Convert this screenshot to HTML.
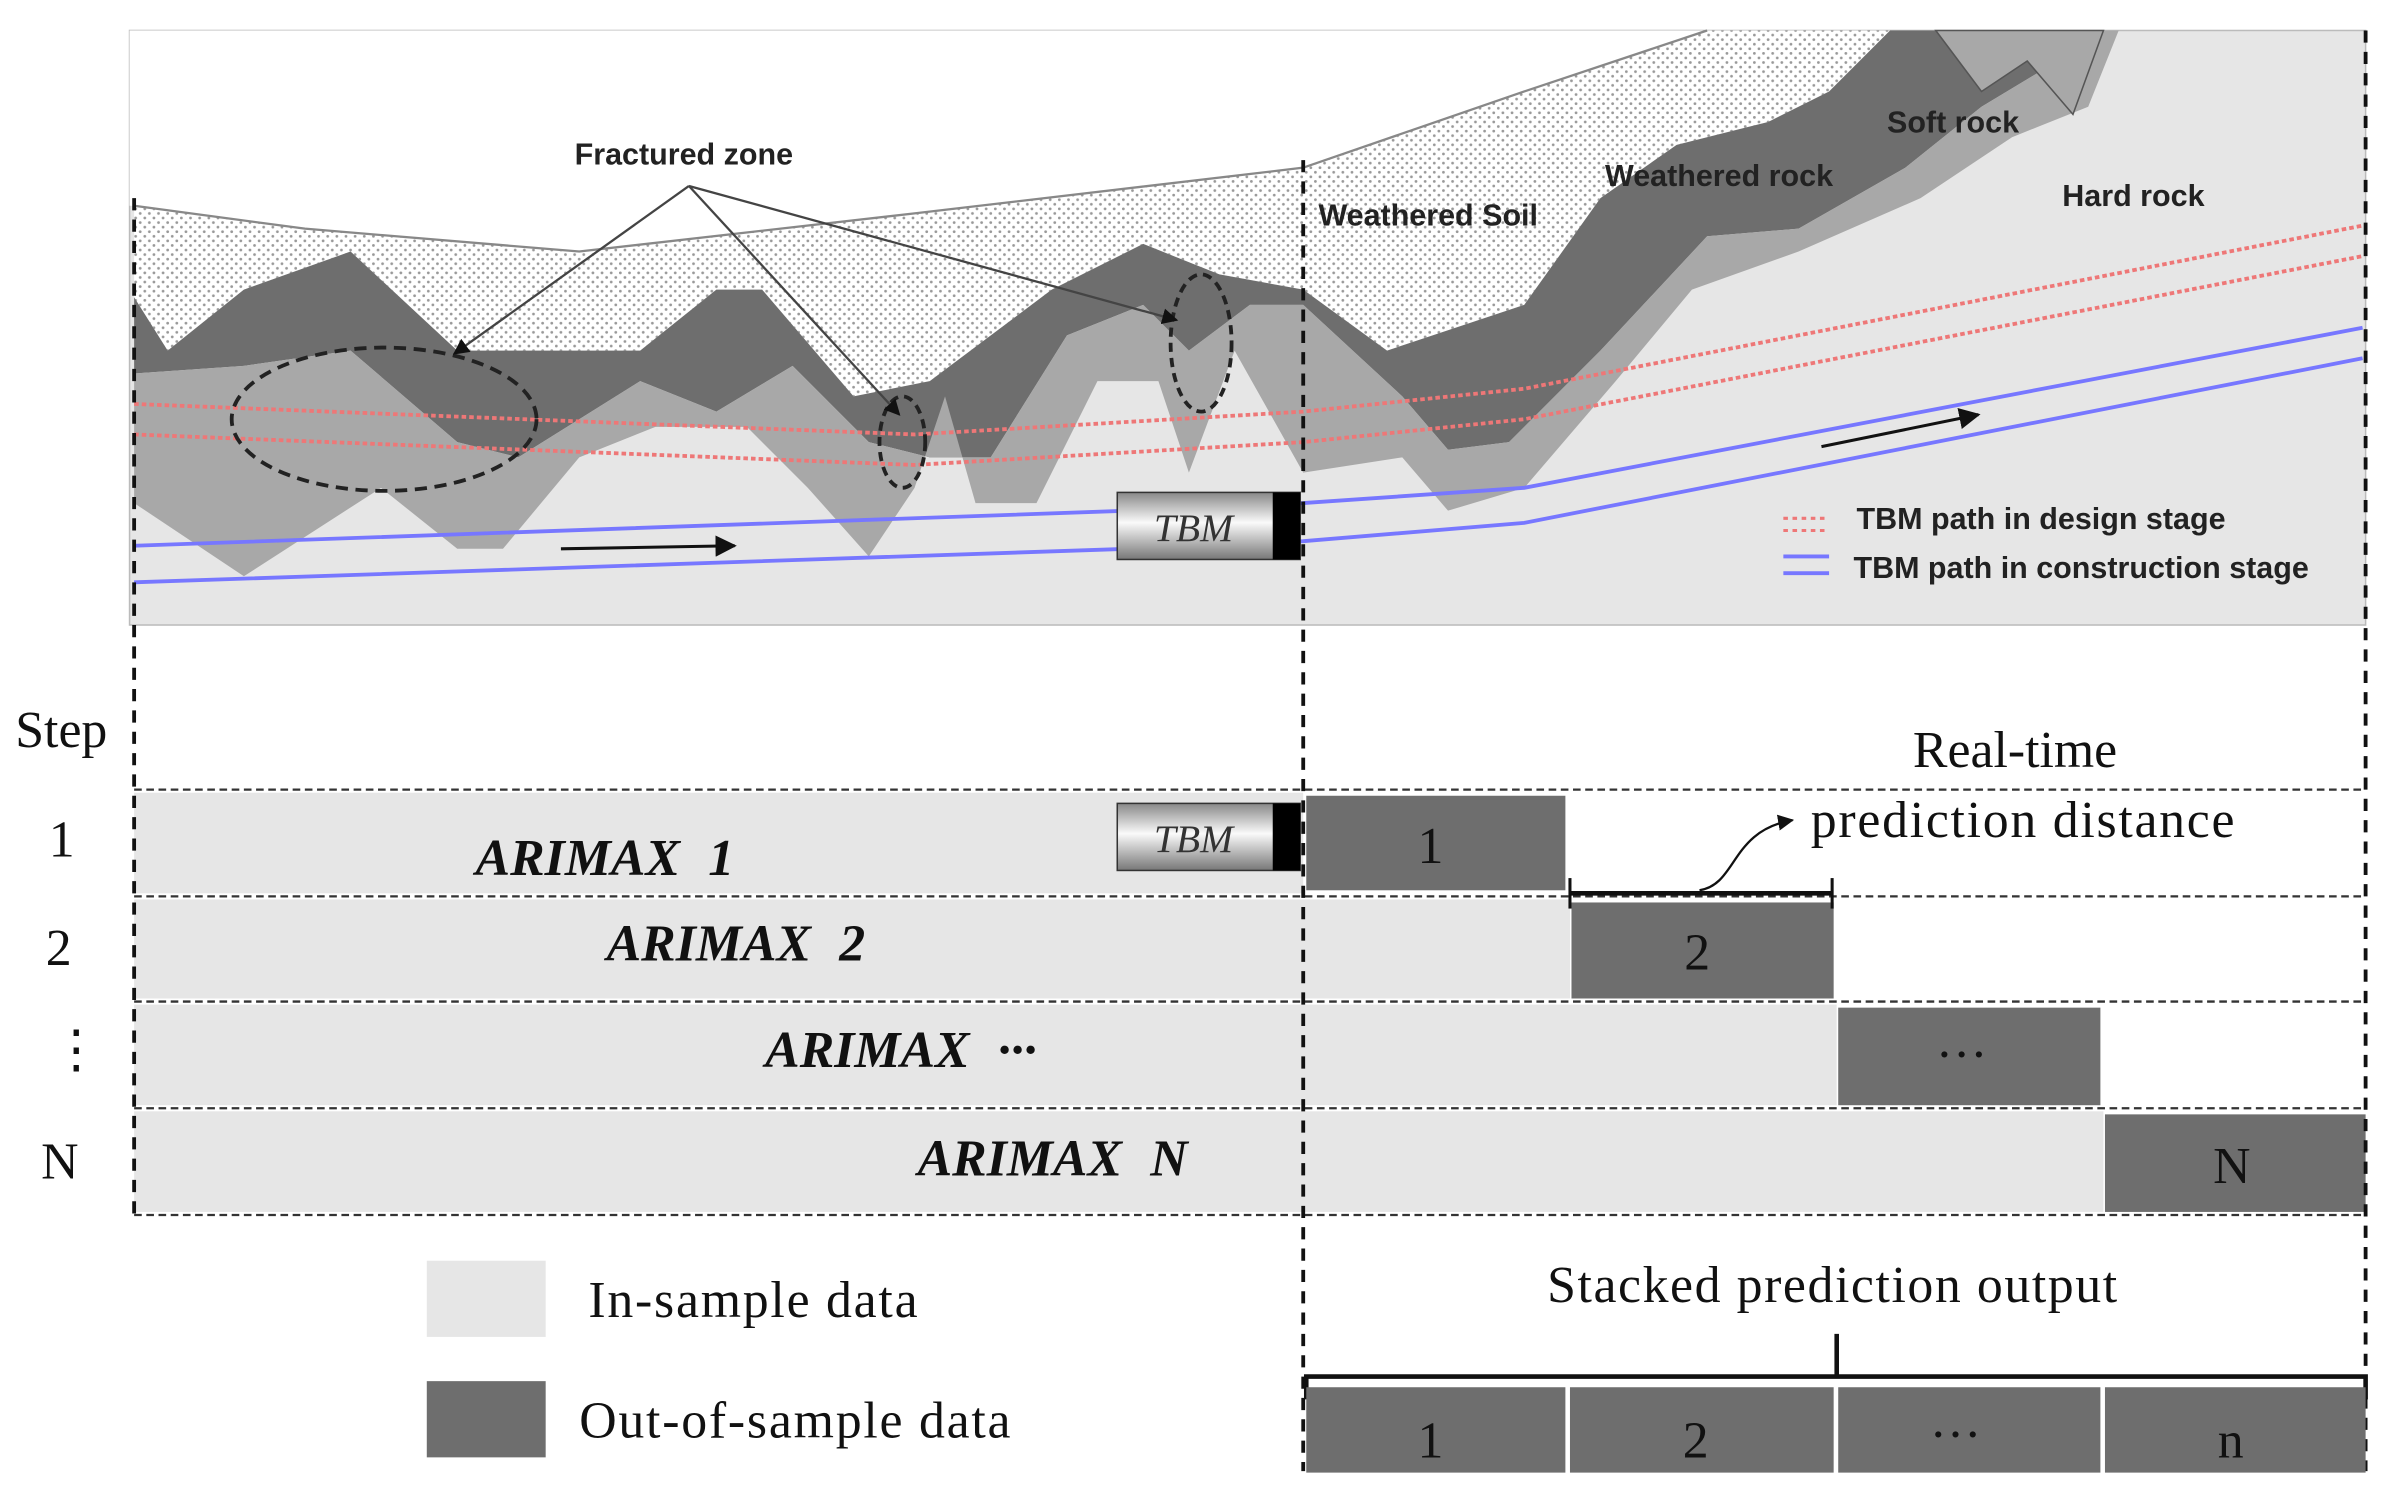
<!DOCTYPE html>
<html><head><meta charset="utf-8"><style>
html,body{margin:0;padding:0;background:#fff;}
svg{display:block;}
.s{font-family:"Liberation Sans",sans-serif;font-weight:bold;font-size:20px;fill:#222;}
.r{font-family:"Liberation Serif",serif;font-size:34px;fill:#111;}
.a{font-family:"Liberation Serif",serif;font-size:34px;font-weight:bold;font-style:italic;fill:#111;word-spacing:10px;}
</style></head><body>
<svg width="2390" height="1497" viewBox="0 0 1568 982" preserveAspectRatio="none" xmlns="http://www.w3.org/2000/svg">
<defs>
<pattern id="dots" width="6" height="6" patternUnits="userSpaceOnUse"><rect width="6" height="6" fill="#fff"/><circle cx="2" cy="2" r="0.9" fill="#999"/><circle cx="5" cy="5" r="0.9" fill="#999"/></pattern>
<linearGradient id="tbm" x1="0" y1="0" x2="0" y2="1"><stop offset="0" stop-color="#888"/><stop offset="0.45" stop-color="#fafafa"/><stop offset="1" stop-color="#777"/></linearGradient>
<marker id="ar" viewBox="0 0 10 10" refX="9" refY="5" markerWidth="7" markerHeight="7" orient="auto"><path d="M0,0L10,5L0,10z" fill="#111"/></marker>
</defs>
<rect x="85" y="20" width="1467" height="390" fill="#e6e6e6" stroke="#bbb"/>
<polygon points="85,20 1120,20 1000,60 855,110 600,140 380,165 200,150 88,135 85,135" fill="#fff"/>
<polygon points="88,135 200,150 380,165 600,140 855,110 1000,60 1120,20 1240,20 1200,60 1160,80 1100,95 1050,130 1000,200 910,230 855,190 800,180 750,160 690,190 610,250 560,260 500,190 470,190 420,230 300,230 230,165 160,190 110,230 88,195" fill="url(#dots)"/>
<polyline points="88,135 200,150 380,165 600,140 855,110 1000,60 1120,20" fill="none" stroke="#888" stroke-width="1.5"/>
<polygon points="88,195 110,230 160,190 230,165 300,230 420,230 470,190 500,190 560,260 610,250 690,190 750,160 800,180 855,190 910,230 1000,200 1050,130 1100,95 1160,80 1200,60 1240,20 1380,20 1350,40 1300,70 1250,110 1180,150 1120,155 1050,230 990,290 950,295 920,260 855,200 820,200 780,230 750,200 700,220 650,300 610,300 570,290 520,240 470,270 420,250 340,300 300,290 230,230 160,240 88,245" fill="#6e6e6e"/>
<polygon points="88,245 160,240 230,230 300,290 340,300 420,250 470,270 520,240 570,290 610,300 650,300 700,220 750,200 780,230 820,200 855,200 920,260 950,295 990,290 1050,230 1120,155 1180,150 1250,110 1300,70 1350,40 1380,20 1390,20 1370,70 1320,90 1260,130 1180,165 1110,190 1060,250 1000,320 950,335 920,300 855,310 810,230 780,310 760,250 720,250 680,330 640,330 620,260 600,320 570,365 530,320 490,280 430,280 380,300 330,360 300,360 250,320 160,378 88,330" fill="#a8a8a8"/>
<polygon points="1270,20 1300,60 1330,40 1360,75 1380,20" fill="#a8a8a8" stroke="#555"/>
<polyline points="88,265 600,285 855,270 1000,255 1550,148" fill="none" stroke="#e77" stroke-width="2.5" stroke-dasharray="3,2"/>
<polyline points="88,285 600,305 855,290 1000,275 1550,168" fill="none" stroke="#e77" stroke-width="2.5" stroke-dasharray="3,2"/>
<polyline points="88,358 740,335 855,330 1000,320 1550,215" fill="none" stroke="#77f" stroke-width="2.5"/>
<polyline points="88,382 740,360 855,355 1000,343 1550,235" fill="none" stroke="#77f" stroke-width="2.5"/>
<ellipse cx="252" cy="275" rx="100" ry="47" fill="none" stroke="#222" stroke-width="2.5" stroke-dasharray="8,5"/>
<ellipse cx="592" cy="290" rx="15" ry="30" fill="none" stroke="#222" stroke-width="2.5" stroke-dasharray="6,4"/>
<ellipse cx="788" cy="225" rx="20" ry="45" fill="none" stroke="#222" stroke-width="2.5" stroke-dasharray="6,4"/>
<line x1="452" y1="122" x2="298" y2="232" stroke="#444" stroke-width="1.5" marker-end="url(#ar)"/>
<line x1="452" y1="122" x2="590" y2="272" stroke="#444" stroke-width="1.5" marker-end="url(#ar)"/>
<line x1="452" y1="122" x2="772" y2="210" stroke="#444" stroke-width="1.5" marker-end="url(#ar)"/>
<text x="377" y="108" class="s">Fractured zone</text>
<text x="865" y="148" class="s">Weathered Soil</text>
<text x="1053" y="122" class="s">Weathered rock</text>
<text x="1238" y="87" class="s">Soft rock</text>
<text x="1353" y="135" class="s">Hard rock</text>
<line x1="1170" y1="340" x2="1200" y2="340" stroke="#e77" stroke-width="2" stroke-dasharray="3,3"/>
<line x1="1170" y1="348" x2="1200" y2="348" stroke="#e77" stroke-width="2" stroke-dasharray="3,3"/>
<line x1="1170" y1="365" x2="1200" y2="365" stroke="#77f" stroke-width="2.5"/>
<line x1="1170" y1="376" x2="1200" y2="376" stroke="#77f" stroke-width="2.5"/>
<text x="1218" y="347" class="s">TBM path in design stage</text>
<text x="1216" y="379" class="s">TBM path in construction stage</text>
<line x1="368" y1="360" x2="482" y2="358" stroke="#111" stroke-width="2" marker-end="url(#ar)"/>
<line x1="1195" y1="293" x2="1298" y2="272" stroke="#111" stroke-width="2" marker-end="url(#ar)"/>
<rect x="733" y="323" width="120" height="44" fill="url(#tbm)" stroke="#333"/>
<rect x="835" y="323" width="18" height="44" fill="#000"/>
<text x="757" y="355" font-family="Liberation Serif,serif" font-style="italic" font-size="26" fill="#333">TBM</text>
<rect x="88" y="520" width="767" height="66" fill="#e6e6e6"/>
<rect x="857" y="522" width="170" height="62" fill="#6e6e6e"/>
<rect x="88" y="590" width="942" height="65" fill="#e6e6e6"/>
<rect x="1031" y="592" width="172" height="63" fill="#6e6e6e"/>
<rect x="88" y="659" width="1117" height="66" fill="#e6e6e6"/>
<rect x="1206" y="661" width="172" height="64" fill="#6e6e6e"/>
<rect x="88" y="729" width="1292" height="66" fill="#e6e6e6"/>
<rect x="1381" y="731" width="171" height="64" fill="#6e6e6e"/>
<g stroke="#333" stroke-width="1.5" stroke-dasharray="5,3" fill="none">
<line x1="88" y1="518" x2="1552" y2="518"/><line x1="88" y1="588" x2="1552" y2="588"/>
<line x1="88" y1="657" x2="1552" y2="657"/><line x1="88" y1="727" x2="1552" y2="727"/>
<line x1="88" y1="797" x2="1552" y2="797"/>
</g>
<g stroke="#111" stroke-width="2.5" stroke-dasharray="8,6">
<line x1="88" y1="130" x2="88" y2="800"/><line x1="855" y1="105" x2="855" y2="965"/><line x1="1552" y1="20" x2="1552" y2="965"/>
</g>
<rect x="733" y="527" width="120" height="44" fill="url(#tbm)" stroke="#333"/>
<rect x="835" y="527" width="18" height="44" fill="#000"/>
<text x="757" y="559" font-family="Liberation Serif,serif" font-style="italic" font-size="26" fill="#333">TBM</text>
<text x="312" y="574" class="a">ARIMAX 1</text>
<text x="398" y="630" class="a">ARIMAX 2</text>
<text x="502" y="700" class="a">ARIMAX ···</text>
<text x="602" y="771" class="a">ARIMAX N</text>
<text x="930" y="566" class="r" fill="#222">1</text>
<text x="1105" y="636" class="r">2</text>
<text x="1270" y="703" class="r">···</text>
<text x="1452" y="776" class="r">N</text>
<text x="10" y="490" class="r">Step</text>
<text x="32" y="562" class="r">1</text>
<text x="30" y="633" class="r">2</text>
<text x="33" y="700" class="r">⋮</text>
<text x="27" y="773" class="r">N</text>
<line x1="1030" y1="586" x2="1202" y2="586" stroke="#111" stroke-width="3"/>
<line x1="1030" y1="576" x2="1030" y2="596" stroke="#111" stroke-width="2"/>
<line x1="1202" y1="576" x2="1202" y2="596" stroke="#111" stroke-width="2"/>
<path d="M1115,584 C1140,580 1135,545 1176,538" fill="none" stroke="#111" stroke-width="1.5" marker-end="url(#ar)"/>
<text x="1255" y="503" class="r">Real-time</text>
<text x="1188" y="549" class="r" textLength="278">prediction distance</text>
<rect x="280" y="827" width="78" height="50" fill="#e6e6e6"/>
<rect x="280" y="906" width="78" height="50" fill="#6e6e6e"/>
<text x="386" y="864" class="r" textLength="216">In-sample data</text>
<text x="380" y="943" class="r" textLength="283">Out-of-sample data</text>
<text x="1015" y="854" class="r" textLength="374">Stacked prediction output</text>
<path d="M857,918 V903 H1552 V918 M1205,903 V875" fill="none" stroke="#111" stroke-width="3"/>
<rect x="857" y="910" width="170" height="56" fill="#6e6e6e"/>
<rect x="1030" y="910" width="173" height="56" fill="#6e6e6e"/>
<rect x="1206" y="910" width="172" height="56" fill="#6e6e6e"/>
<rect x="1381" y="910" width="171" height="56" fill="#6e6e6e"/>
<text x="930" y="956" class="r" font-size="38">1</text>
<text x="1104" y="956" class="r" font-size="38">2</text>
<text x="1266" y="952" class="r" font-size="38">···</text>
<text x="1455" y="956" class="r" font-size="38">n</text>
</svg>
</body></html>
